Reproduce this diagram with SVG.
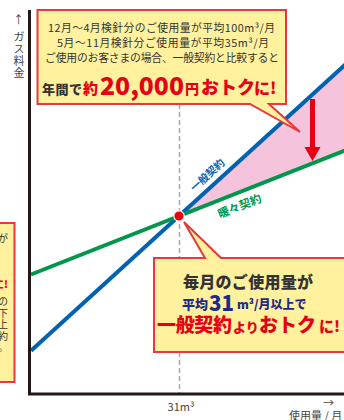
<svg xmlns="http://www.w3.org/2000/svg" width="344" height="420" viewBox="0 0 344 420">
<defs>
<style>
text{font-family:"Noto Sans CJK JP","Noto Sans",sans-serif;}
.callout{fill:#fff19e;stroke:#e8383d;stroke-width:2;}
.dark{fill:#333;}
.b{font-weight:900;}
.red{fill:#e60012;font-weight:900;}
.navy{fill:#1d2a88;font-weight:900;}
.axislbl{fill:#444;font-size:11px;}
.axis{stroke:#231815;stroke-width:3;fill:none;}
.side{fill:#333;font-size:10px;}
</style>
</defs>
<rect width="344" height="420" fill="#fff"/>

<!-- left partial callout -->
<g id="left-callout">
<path class="callout" d="M-5,223 H14.5 V382 H-5 Z"/>
<text class="side" text-anchor="end" x="8" y="242">が</text>
<text class="red" font-size="10" text-anchor="end" x="8" y="288">に!</text>
<text class="side" text-anchor="end" x="8" y="305">の</text>
<text class="side" text-anchor="end" x="8" y="317">下</text>
<text class="side" text-anchor="end" x="8" y="328">上</text>
<text class="side" text-anchor="end" x="8" y="340">約</text>
<text class="side" text-anchor="end" x="8" y="351">。</text>
</g>

<!-- pink savings area -->
<polygon id="savings-area" points="179,216 344,65.8 344,150.8" fill="#f5c3db"/>

<!-- reference dashed line -->
<line x1="179.5" y1="104" x2="179.5" y2="393" stroke="#aaa" stroke-width="1.5" stroke-dasharray="5,3"/>

<g id="connectors">
<line id="blue-line" x1="31" y1="350.7" x2="346" y2="64" stroke="#0062b1" stroke-width="4"/>
<line id="green-line" x1="31" y1="274.5" x2="346" y2="150" stroke="#00974b" stroke-width="4"/>
<g id="red-arrow">
<line x1="312.5" y1="99" x2="312.5" y2="150" stroke="#e60012" stroke-width="5"/>
<polygon points="304.5,147 320.5,147 312.5,161" fill="#e60012"/>
</g>
</g>

<g id="line-labels">
<text transform="translate(207.5,175) rotate(-42.3)" y="3.8" text-anchor="middle" font-size="10.5" font-weight="bold" fill="#0062b1">一般契約</text>
<text transform="translate(239.5,206) rotate(-21.5)" y="4.2" text-anchor="middle" font-size="11.5" font-weight="bold" fill="#00974b">暖々契約</text>
</g>

<!-- axes -->
<g id="axes">
<path class="axis" d="M29.5,10 V394 H344"/>
<text class="axislbl" x="18.5" y="24" text-anchor="middle" font-size="12">↑</text>
<text class="axislbl" x="19" y="31" style="writing-mode:vertical-rl;letter-spacing:1.2px">ガス料金</text>
<text class="axislbl" x="181" y="411" text-anchor="middle">31m³</text>
<text class="axislbl" x="328.5" y="407" text-anchor="middle" font-size="12">→</text>
<text class="axislbl" x="289" y="420" font-size="10.5">使用量 / 月</text>
</g>

<!-- intersection dot -->
<circle id="intersection" cx="179" cy="216" r="5.2" fill="#e60012" stroke="#fff" stroke-width="1.2"/>

<!-- top callout -->
<g id="top-callout">
<path class="callout" d="M37.5,10 H286 V104 H269 L300,132 L250,104 H37.5 Z"/>
<text class="dark" font-size="10.8" x="48" y="32" textLength="227">12月～4月検針分のご使用量が平均100m³/月</text>
<text class="dark" font-size="10.8" x="57" y="47" textLength="212">5月～11月検針分ご使用量が平均35m³/月</text>
<text class="dark" font-size="10.8" x="45" y="62" textLength="234">ご使用のお客さまの場合、一般契約と比較すると</text>
<text class="dark b" font-size="13" x="42" y="94" textLength="40">年間で</text>
<text class="red" font-size="15" x="83" y="94">約</text>
<text class="red" font-size="25" x="100" y="95" textLength="84" lengthAdjust="spacingAndGlyphs">20,000</text>
<text class="red" font-size="14" x="185" y="94">円</text>
<text class="red" font-size="18" x="201" y="94">おトク</text>
<text class="red" font-size="16" x="254" y="94">に!</text>
</g>

<!-- bottom callout -->
<g id="bottom-callout">
<path class="callout" d="M154,258 H205 L184,222 L221,258 H347 V352 H154 Z"/>
<text class="dark b" font-size="16" x="183" y="288" textLength="130">毎月のご使用量が</text>
<text class="navy" font-size="13" x="182" y="309">平均</text>
<text class="navy" font-size="21" x="209" y="311" textLength="25" lengthAdjust="spacingAndGlyphs">31</text>
<text class="navy" font-size="12" x="237" y="309">m³/月以上で</text>
<text class="red" font-size="19" x="157" y="332" textLength="75">一般契約</text>
<text class="red" font-size="13" x="233" y="332">より</text>
<text class="red" font-size="19" x="259" y="332">おトク</text>
<text class="red" font-size="15" x="319" y="332">に!</text>
</g>
</svg>
